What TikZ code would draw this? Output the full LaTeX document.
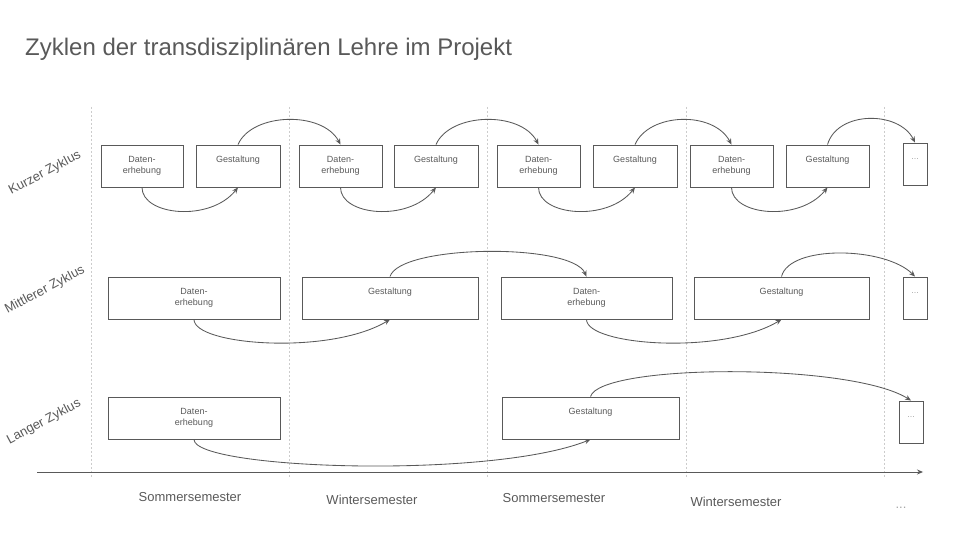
\documentclass[tikz,border=0pt]{standalone}
\usepackage{fontspec}
\setmainfont{Liberation Sans}
\usetikzlibrary{arrows.meta}
\definecolor{txt}{HTML}{595959}
\definecolor{edge}{HTML}{595959}
\definecolor{grid}{HTML}{CCCCCC}
\definecolor{dotc}{HTML}{A6A6A6}
\tikzset{
  box/.style={draw=edge, line width=0.9pt, text=txt, align=center, inner sep=0pt,
    minimum height=42pt, font=\fontsize{9}{11.5}\selectfont},
  dotbox/.style={box, minimum width=24pt, text=dotc, font=\fontsize{9}{10}\selectfont},
  flow/.style={draw=edge, line width=0.85pt, -{Stealth[length=6pt,width=5pt]}},
  gridline/.style={draw=grid, line width=0.6pt, dash pattern=on 2pt off 2pt},
  rowlabel/.style={text=txt, font=\fontsize{13}{15}\selectfont, rotate=28},
  semlabel/.style={text=txt, font=\fontsize{13}{15}\selectfont},
}
\newcommand{\DE}{Daten-\\erhebung}
\newcommand{\GS}{Gestaltung\\\phantom{erhebung}}
\newcommand{\DT}{...\\\phantom{x}}
\begin{document}
\begin{tikzpicture}[x=1pt,y=1pt]
\useasboundingbox (0,0) rectangle (960,540);

% title
\node[anchor=west, text=txt, font=\fontsize{24}{28}\selectfont, inner sep=0pt] (title) at (25,491) {Zyklen der transdisziplinären Lehre im Projekt};

% semester grid lines
\foreach \x [count=\i] in {91,289,487,686,884} {
  \coordinate (gt\i) at (\x,433);
  \coordinate (gb\i) at (\x,62);
  \draw[gridline] (gt\i) -- (gb\i);
}

% row labels
\node[rowlabel] (rk) at (45,367) {Kurzer Zyklus};
\node[rowlabel] (rm) at (45,250) {Mittlerer Zyklus};
\node[rowlabel] (rl) at (44,118) {Langer Zyklus};

% short cycle
\node[box, minimum width=82pt] (k1) at (142,374) {\DE};
\node[box, minimum width=84pt] (k2) at (238,374) {\GS};
\node[box, minimum width=83pt] (k3) at (340.5,374) {\DE};
\node[box, minimum width=84pt] (k4) at (436,374) {\GS};
\node[box, minimum width=83pt] (k5) at (538.5,374) {\DE};
\node[box, minimum width=84pt] (k6) at (635,374) {\GS};
\node[box, minimum width=83pt] (k7) at (731.5,374) {\DE};
\node[box, minimum width=83pt] (k8) at (827.5,374) {\GS};
\node[dotbox] (k9) at (915,376) {\DT};

\foreach \a/\b in {k1/k2,k3/k4,k5/k6,k7/k8}
  \draw[flow] (\a.south) .. controls +(0,-28) and +(-28,-35) .. (\b.south);
\foreach \a/\b in {k2/k3,k4/k5,k6/k7}
  \draw[flow] (\a.north) .. controls +(14,32) and +(-18,34) .. (\b.north);
\draw[flow] (k8.north) .. controls +(10,34) and +(-16,32) .. (k9.north);

% middle cycle
\node[box, minimum width=172pt] (m1) at (194,242) {\DE};
\node[box, minimum width=176pt] (m2) at (390,242) {\GS};
\node[box, minimum width=171pt] (m3) at (586.5,242) {\DE};
\node[box, minimum width=175pt] (m4) at (781.5,242) {\GS};
\node[dotbox] (m5) at (915,242) {\DT};

\draw[flow] (m1.south) .. controls +(0,-26) and +(-60,-36) .. (m2.south);
\draw[flow] (m3.south) .. controls +(0,-26) and +(-60,-36) .. (m4.south);
\draw[flow] (m2.north) .. controls +(10,32) and +(-15,34) .. (m3.north);
\draw[flow] (m4.north) .. controls +(8,32) and +(-30,30) .. (m5.north);

% long cycle
\node[box, minimum width=172pt] (l1) at (194,122) {\DE};
\node[box, minimum width=177pt] (l2) at (590.5,122) {\GS};
\node[dotbox] (l3) at (911,118) {\DT};

\draw[flow] (l1.south) .. controls +(0,-30) and +(-100,-40) .. (l2.south);
\draw[flow] (l2.north) .. controls +(10,33) and +(-60,38) .. (l3.north);

% time axis
\coordinate (ax0) at (37,68);
\coordinate (ax1) at (923,68);
\draw[flow] (ax0) -- (ax1);

% semester labels
\node[semlabel] (s1) at (190,43) {Sommersemester};
\node[semlabel] (s2) at (372,40) {Wintersemester};
\node[semlabel] (s3) at (554,42) {Sommersemester};
\node[semlabel] (s4) at (736,38) {Wintersemester};
\node[semlabel, text=dotc] (s5) at (901,32) {...};
\end{tikzpicture}
\end{document}
